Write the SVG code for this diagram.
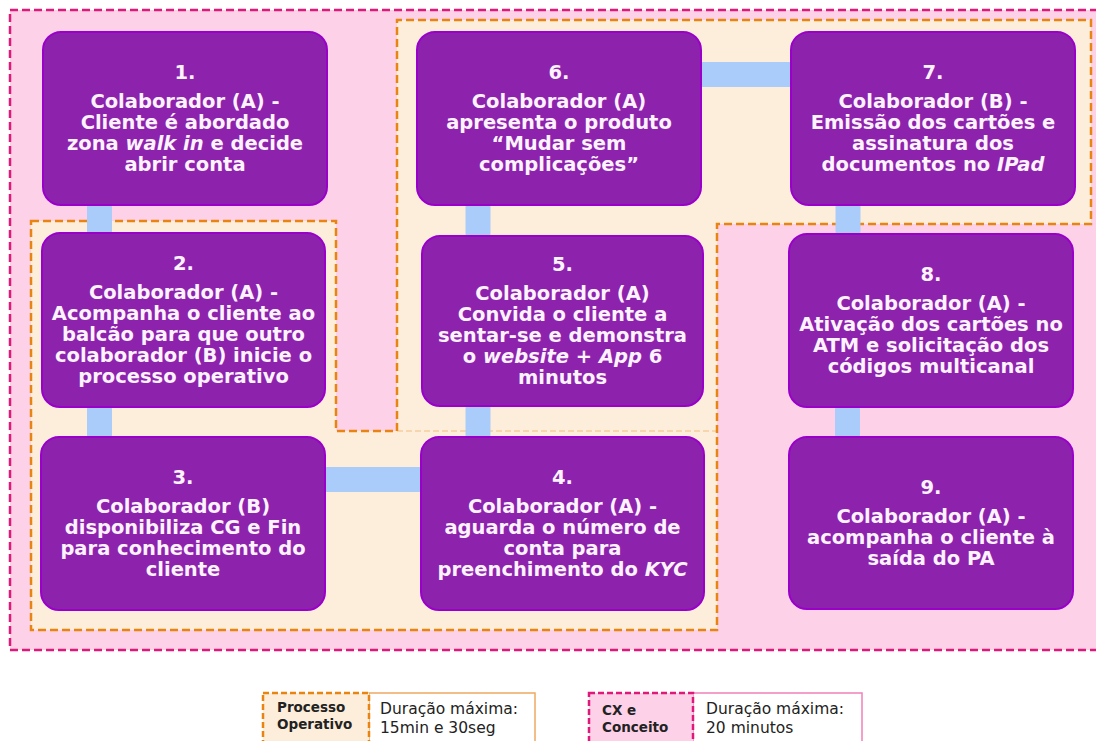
<svg xmlns="http://www.w3.org/2000/svg" width="1096" height="741" viewBox="0 0 1096 741">
<style>
.node rect{fill:#8D22AD;stroke:#9B00CB;stroke-width:2}
.node text{font-family:"DejaVu Sans",Verdana,sans-serif;font-weight:bold;font-size:19.5px;fill:#FDF3FF;text-anchor:middle}
.it{font-style:italic}
.conn line{stroke:#A9CCFB;stroke-width:25;stroke-linecap:butt}
.pinkzone{fill:#FDD2E8;stroke:#E0187A;stroke-width:2.5;stroke-dasharray:8 4}
.orangezone{fill:#FDEEDC;stroke:#E8840F;stroke-width:2.5;stroke-dasharray:8 4}
.lg{font-family:"DejaVu Sans",Verdana,sans-serif;font-size:15.5px;fill:#222}
.lgb{font-family:"DejaVu Sans",Verdana,sans-serif;font-size:13.5px;font-weight:bold;fill:#222}
</style>
<rect width="1096" height="741" fill="#FFFFFF"/>
<g id="zone-cx">
<rect class="pinkzone" x="10" y="10" width="1100" height="640"/>
</g>
<g id="zone-processo">
<path class="orangezone" d="M31,221 L336,221 L336,431 L397,431 L397,20 L1091,20 L1091,224 L717,224 L717,630 L31,630 Z"/>
<line x1="397" y1="431" x2="717" y2="431" stroke="#E8840F" stroke-opacity="0.3" stroke-width="1.5" stroke-dasharray="6 3"/>
</g>
<g id="connectors" class="conn">
<line x1="99.5" y1="204" x2="99.5" y2="234"/>
<line x1="99.5" y1="406" x2="99.5" y2="438"/>
<line x1="324" y1="479.5" x2="422" y2="479.5"/>
<line x1="478" y1="405" x2="478" y2="438"/>
<line x1="478" y1="204" x2="478" y2="237"/>
<line x1="700" y1="74.5" x2="792" y2="74.5"/>
<line x1="848" y1="204" x2="848" y2="235"/>
<line x1="847.5" y1="406" x2="847.5" y2="438"/>
</g>
<g id="node1" class="node">
<rect x="43" y="32" width="284" height="173" rx="18"/>
<text x="185" y="79">1.</text>
<text x="185" y="108">Colaborador (A) -</text>
<text x="185" y="129">Cliente é abordado</text>
<text x="185" y="150">zona <tspan class="it">walk in</tspan> e decide</text>
<text x="185" y="171">abrir conta</text>
</g>
<g id="node2" class="node">
<rect x="42" y="233" width="283" height="174" rx="18"/>
<text x="183.5" y="270">2.</text>
<text x="183.5" y="299">Colaborador (A) -</text>
<text x="183.5" y="320">Acompanha o cliente ao</text>
<text x="183.5" y="341">balcão para que outro</text>
<text x="183.5" y="362">colaborador (B) inicie o</text>
<text x="183.5" y="383">processo operativo</text>
</g>
<g id="node3" class="node">
<rect x="41" y="437" width="284" height="173" rx="18"/>
<text x="183" y="484">3.</text>
<text x="183" y="513">Colaborador (B)</text>
<text x="183" y="534">disponibiliza CG e Fin</text>
<text x="183" y="555">para conhecimento do</text>
<text x="183" y="576">cliente</text>
</g>
<g id="node4" class="node">
<rect x="421" y="437" width="283" height="173" rx="18"/>
<text x="562.5" y="484">4.</text>
<text x="562.5" y="513">Colaborador (A) -</text>
<text x="562.5" y="534">aguarda o número de</text>
<text x="562.5" y="555">conta para</text>
<text x="562.5" y="576">preenchimento do <tspan class="it">KYC</tspan></text>
</g>
<g id="node5" class="node">
<rect x="422" y="236" width="281" height="170" rx="18"/>
<text x="562.5" y="271">5.</text>
<text x="562.5" y="300">Colaborador (A)</text>
<text x="562.5" y="321">Convida o cliente a</text>
<text x="562.5" y="342">sentar-se e demonstra</text>
<text x="562.5" y="363">o <tspan class="it">website</tspan> + <tspan class="it">App</tspan> 6</text>
<text x="562.5" y="384">minutos</text>
</g>
<g id="node6" class="node">
<rect x="417" y="32" width="284" height="173" rx="18"/>
<text x="559" y="79">6.</text>
<text x="559" y="108">Colaborador (A)</text>
<text x="559" y="129">apresenta o produto</text>
<text x="559" y="150">“Mudar sem</text>
<text x="559" y="171">complicações”</text>
</g>
<g id="node7" class="node">
<rect x="791" y="32" width="284" height="173" rx="18"/>
<text x="933" y="79">7.</text>
<text x="933" y="108">Colaborador (B) -</text>
<text x="933" y="129">Emissão dos cartões e</text>
<text x="933" y="150">assinatura dos</text>
<text x="933" y="171">documentos no <tspan class="it">IPad</tspan></text>
</g>
<g id="node8" class="node">
<rect x="789" y="234" width="284" height="173" rx="18"/>
<text x="931" y="281">8.</text>
<text x="931" y="310">Colaborador (A) -</text>
<text x="931" y="331">Ativação dos cartões no</text>
<text x="931" y="352">ATM e solicitação dos</text>
<text x="931" y="373">códigos multicanal</text>
</g>
<g id="node9" class="node">
<rect x="789" y="437" width="284" height="172" rx="18"/>
<text x="931" y="494">9.</text>
<text x="931" y="523">Colaborador (A) -</text>
<text x="931" y="544">acompanha o cliente à</text>
<text x="931" y="565">saída do PA</text>
</g>
<g id="legend-processo">
<rect x="369" y="693" width="166" height="60" fill="#FFFFFF" stroke="#F0A860" stroke-width="1.5"/>
<rect x="263" y="693" width="106" height="60" fill="#FDEEDC" stroke="#E8840F" stroke-width="2.5" stroke-dasharray="6 3"/>
<text class="lgb" x="277" y="712">Processo</text>
<text class="lgb" x="277" y="729">Operativo</text>
<text class="lg" x="380" y="714">Duração máxima:</text>
<text class="lg" x="380" y="733">15min e 30seg</text>
</g>
<g id="legend-cx">
<rect x="693" y="693" width="169" height="60" fill="#FFFFFF" stroke="#F080B8" stroke-width="1.5"/>
<rect x="589" y="693" width="104" height="60" fill="#FDD2E8" stroke="#E0187A" stroke-width="2.5" stroke-dasharray="6 3"/>
<text class="lgb" x="602" y="715">CX e</text>
<text class="lgb" x="602" y="732">Conceito</text>
<text class="lg" x="706" y="714">Duração máxima:</text>
<text class="lg" x="706" y="733">20 minutos</text>
</g>
</svg>
